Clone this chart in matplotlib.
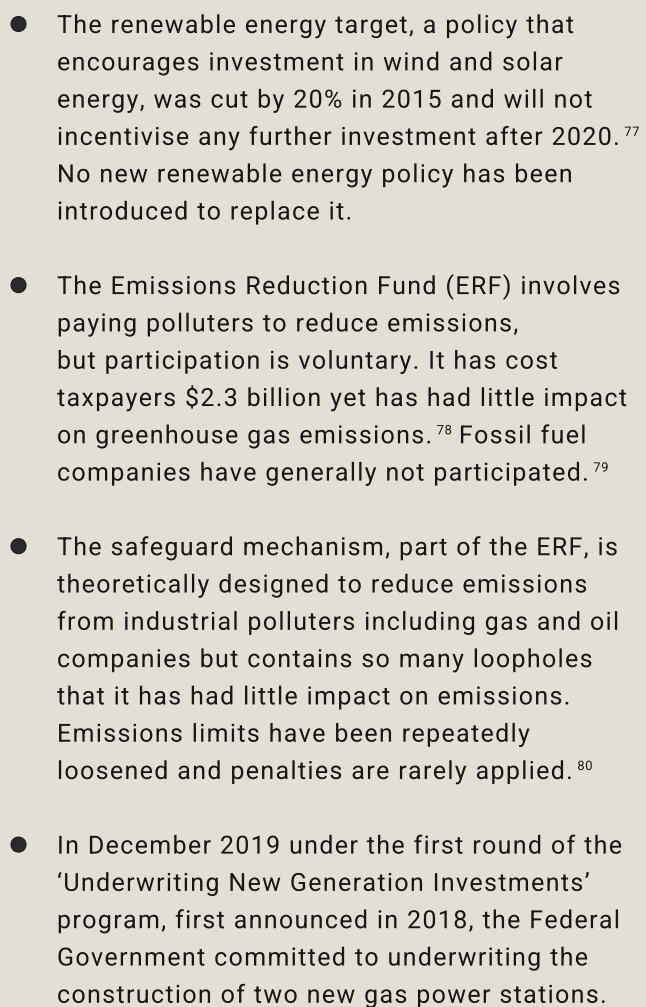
import matplotlib
matplotlib.use("Agg")
import matplotlib.pyplot as plt
from matplotlib.patches import Circle, PathPatch
from matplotlib.path import Path
from matplotlib.textpath import TextPath
from matplotlib.transforms import Affine2D
from matplotlib import font_manager
from matplotlib.font_manager import FontProperties
from matplotlib.ft2font import FT2Font

try:
    from matplotlib.ft2font import Kerning, LoadFlags
    KERN = Kerning.DEFAULT
    NOHINT = LoadFlags.NO_HINTING
except Exception:  # older matplotlib
    from matplotlib.ft2font import KERNING_DEFAULT as KERN, LOAD_NO_HINTING as NOHINT

# ---- content ----
para1 = [
    "The renewable energy target, a policy that",
    "encourages investment in wind and solar",
    "energy, was cut by 20% in 2015 and will not",
    ["incentivise any further investment after 2020.", ("sup", "77")],
    "No new renewable energy policy has been",
    "introduced to replace it.",
]
para2 = [
    "The Emissions Reduction Fund (ERF) involves",
    "paying polluters to reduce emissions,",
    "but participation is voluntary. It has cost",
    "taxpayers $2.3 billion yet has had little impact",
    ["on greenhouse gas emissions.", ("sup", "78"), "Fossil fuel"],
    ["companies have generally not participated.", ("sup", "79")],
]
para3 = [
    "The safeguard mechanism, part of the ERF, is",
    "theoretically designed to reduce emissions",
    "from industrial polluters including gas and oil",
    "companies but contains so many loopholes",
    "that it has had little impact on emissions.",
    "Emissions limits have been repeatedly",
    ["loosened and penalties are rarely applied.", ("sup", "80")],
]
para4 = [
    "In December 2019 under the first round of the",
    "\u2018Underwriting New Generation Investments\u2019",
    "program, first announced in 2018, the Federal",
    "Government committed to underwriting the",
    "construction of two new gas power stations.",
]
paragraphs = [para1, para2, para3, para4]

W, H, DPI = 646, 1007, 100
BG = "#e4dfd5"
FG = "#161616"

fig = plt.figure(figsize=(W / DPI, H / DPI), dpi=DPI, facecolor=BG)
ax = fig.add_axes([0, 0, 1, 1])
ax.set_xlim(0, W)
ax.set_ylim(H, 0)
ax.axis("off")
ax.set_facecolor(BG)

PX = 25.0        # main font size in px (= data units)
SPX = 13.0       # superscript size in px
TRACK = 1.35     # letter spacing (px)
SUP_TRACK = 0.6
FP = FontProperties(family="Roboto")

x0 = 57
y_first = 33
step = 37.3

font_path = font_manager.findfont(FP)
fonts = {}


def get_font(px):
    if px not in fonts:
        f = FT2Font(font_path)
        f.set_size(px * 72.0 / DPI, DPI)
        fonts[px] = f
    return fonts[px]


def string_paths(x, s, px, track, paths):
    f = get_font(px)
    prev = None
    for c in s:
        gi = f.get_char_index(ord(c))
        if prev is not None:
            x += f.get_kerning(prev, gi, KERN) / 64.0
        g = f.load_char(ord(c), flags=NOHINT)
        adv = g.linearHoriAdvance / 65536.0
        if c != " ":
            paths.append(TextPath((x, 0), c, size=px, prop=FP))
        x += adv + track
        prev = gi
    return x - track


def draw_paths(paths, yb, dy=0.0):
    if not paths:
        return
    comp = Path.make_compound_path(*paths)
    tr = Affine2D().scale(1, -1).translate(0, yb + dy) + ax.transData
    ax.add_patch(PathPatch(comp, facecolor=FG, edgecolor="none", lw=0,
                           transform=tr))


idx = 0
for para in paragraphs:
    for li, line in enumerate(para):
        yb = y_first + idx * step
        if li == 0:
            ax.add_patch(Circle((18.5, yb - 9), 7.5, facecolor="#2a2a2a",
                                edgecolor="#1a1a1a", lw=0.8))
        segs = line if isinstance(line, list) else [line]
        x = x0
        prev_sup = False
        main_paths, sup_paths = [], []
        for s in segs:
            if isinstance(s, tuple):
                x = string_paths(x + 4.5, s[1], SPX, SUP_TRACK, sup_paths)
                prev_sup = True
            else:
                if prev_sup:
                    x += 7.0
                x = string_paths(x, s, PX, TRACK, main_paths)
                prev_sup = False
        draw_paths(main_paths, yb)
        draw_paths(sup_paths, yb, dy=-9)
        idx += 1
    idx += 1

fig.savefig("out.png", dpi=DPI, facecolor=BG)
